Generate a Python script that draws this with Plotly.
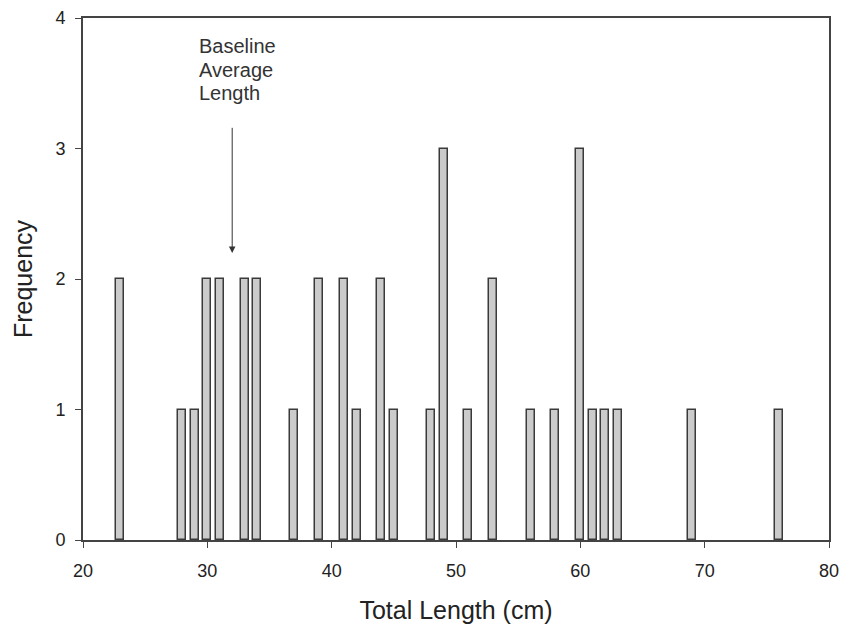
import plotly.graph_objects as go

lengths = [23, 28, 29, 30, 31, 33, 34, 37, 39, 41, 42, 44, 45, 48, 49, 51, 53, 56, 58, 60, 61, 62, 63, 69, 76]
freqs   = [2, 1, 1, 2, 2, 2, 2, 1, 2, 2, 1, 2, 1, 1, 3, 1, 2, 1, 1, 3, 1, 1, 1, 1, 1]
x_ticks = [20, 30, 40, 50, 60, 70, 80]
y_ticks = [0, 1, 2, 3, 4]
arrow_x = 32
arrow_from = 3.17
arrow_to = 2.2
label_lines = ["Baseline", "Average", "Length"]
label_y = [3.785, 3.602, 3.425]

FONT = "Liberation Sans, Arial"

fig = go.Figure()
fig.add_trace(go.Bar(
    x=lengths, y=freqs, width=0.64,
    marker=dict(color="#cbcbcb", line=dict(color="#3a3a3a", width=1.5)),
    showlegend=False,
))

fig.add_annotation(
    x=arrow_x, y=arrow_to, ax=arrow_x, ay=arrow_from,
    xref="x", yref="y", axref="x", ayref="y",
    text="", showarrow=True, arrowhead=2, arrowsize=1.3, arrowwidth=1, arrowcolor="#333333",
)
for txt, yy in zip(label_lines, label_y):
    fig.add_annotation(
        x=29.2, y=yy, xref="x", yref="y",
        text=txt, showarrow=False,
        xanchor="left", yanchor="middle", align="left",
        font=dict(family=FONT, size=20, color="#333333"),
    )

axis_common = dict(
    showline=True, linecolor="#444444", linewidth=1.8, mirror=True,
    ticks="outside", ticklen=6, tickcolor="#444444", tickwidth=1.2,
    showgrid=False, zeroline=False, automargin=False,
    tickfont=dict(family=FONT, size=18, color="#222222"),
)
fig.update_xaxes(
    range=[20, 80], tickvals=x_ticks, ticklabelstandoff=7,
    title=dict(text="Total Length (cm)", font=dict(family=FONT, size=25, color="#222222"), standoff=22),
    **axis_common,
)
fig.update_yaxes(
    range=[0, 4], tickvals=y_ticks, ticklabelstandoff=6,
    title=dict(text="Frequency", font=dict(family=FONT, size=25, color="#222222"), standoff=16),
    **axis_common,
)
fig.update_layout(
    width=842, height=628,
    margin=dict(l=83, r=13, t=18, b=88),
    plot_bgcolor="white", paper_bgcolor="white",
    bargap=0,
)
fig.write_html("out.html")
